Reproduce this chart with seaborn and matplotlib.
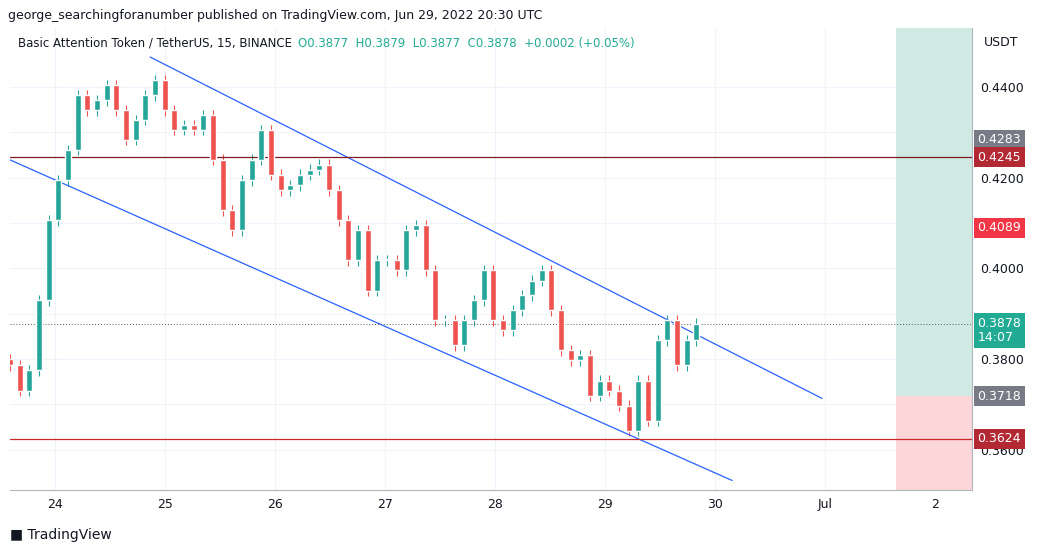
import numpy as np
import pandas as pd
import matplotlib
matplotlib.use('Agg')
import matplotlib.pyplot as plt
import seaborn as sns

# ─── Data (BAT/USDT, ~2h candles) ─────────────────────────────────────────
first_open = 0.3800
closes = [0.3786, 0.3730, 0.3775, 0.3929, 0.4106, 0.4194, 0.4261, 0.4382, 0.4349,
          0.4371, 0.4404, 0.4349, 0.4283, 0.4327, 0.4382, 0.4415, 0.4349, 0.4305,
          0.4316, 0.4305, 0.4338, 0.4239, 0.4128, 0.4084, 0.4194, 0.4239, 0.4305,
          0.4206, 0.4172, 0.4183, 0.4206, 0.4217, 0.4228, 0.4172, 0.4106, 0.4018,
          0.4084, 0.3951, 0.4018, 0.4018, 0.3996, 0.4084, 0.4095, 0.3996, 0.3885,
          0.3885, 0.3830, 0.3885, 0.3929, 0.3996, 0.3885, 0.3863, 0.3907, 0.3940,
          0.3973, 0.3996, 0.3907, 0.3819, 0.3797, 0.3808, 0.3719, 0.3752, 0.3730,
          0.3697, 0.3642, 0.3752, 0.3664, 0.3841, 0.3885, 0.3786, 0.3841, 0.3878]
start_day, end_day = 23.59, 29.83          # 24 == Jun 24 00:00
upper_channel = ([24.864, 30.973], [0.4466, 0.3713])
lower_channel = ([23.591, 30.155], [0.4239, 0.3532])
resistance, support, last_price = 0.4245, 0.3624, 0.3878
target_split = 0.3718
box_days = (31.645, 32.336)
tick_days = [24, 25, 26, 27, 28, 29, 30, 31, 32]
tick_labels = ['24', '25', '26', '27', '28', '29', '30', 'Jul', '2']
price_ticks = [0.36, 0.37, 0.38, 0.39, 0.40, 0.41, 0.42, 0.43, 0.44]

UP, DOWN = '#26a69a', '#ef5350'

sns.set_style('white')
plt.rcParams['font.family'] = 'DejaVu Sans'

df = pd.DataFrame({'close': closes})
df['open'] = [first_open] + closes[:-1]
df['day'] = np.linspace(start_day, end_day, len(closes))
df['high'] = df[['open', 'close']].max(axis=1) + 0.0012
df['low'] = df[['open', 'close']].min(axis=1) - 0.0012
df['color'] = np.where(df['close'] >= df['open'], UP, DOWN)

fig = plt.figure(figsize=(10.45, 5.52), dpi=100)
ax = fig.add_axes([10 / 1045, 1 - 490 / 552, 962 / 1045, 462 / 552])
ax.set_xlim(start_day, box_days[1])
ax.set_ylim(0.3511, 0.4530)

for p in price_ticks:
    ax.axhline(p, color='#f0f3fa', lw=0.8, zorder=0)
for d in tick_days:
    ax.axvline(d, color='#f0f3fa', lw=0.8, zorder=0)

width = (end_day - start_day) / (len(closes) - 1) * 0.6
ax.vlines(df['day'], df['low'], df['high'], colors=df['color'], lw=0.8, zorder=2)
ax.bar(df['day'], (df['close'] - df['open']).abs().clip(lower=0.0003),
       bottom=df[['open', 'close']].min(axis=1), width=width,
       color=df['color'], zorder=3)

sns.lineplot(x=upper_channel[0], y=upper_channel[1], ax=ax, color='#2962ff', lw=0.9)
sns.lineplot(x=lower_channel[0], y=lower_channel[1], ax=ax, color='#2962ff', lw=0.9)
ax.axhline(resistance, color='#801922', lw=0.9)
ax.axhline(support, color='#c62828', lw=0.9)
ax.axhline(last_price, color='#555555', lw=0.7, ls=(0, (1, 2)))
frac = (target_split - 0.3511) / 0.1019
ax.axvspan(box_days[0], box_days[1], ymin=frac, ymax=1, color='#cfe9e3', lw=0)
ax.axvspan(box_days[0], box_days[1], ymin=0, ymax=frac, color='#fcd6d8', lw=0)

# price ticks; the ones hidden behind price boxes are left unlabelled
hidden = {0.43, 0.41, 0.39, 0.37}
ax.set_xticks(tick_days, tick_labels)
ax.yaxis.tick_right()
ax.set_yticks(price_ticks, ['' if p in hidden else f'{p:.4f}' for p in price_ticks])
ax.tick_params(length=0, labelsize=9, colors='#131722', pad=6)
for s in ['top', 'left']:
    ax.spines[s].set_visible(False)
for s in ['right', 'bottom']:
    ax.spines[s].set_color('#b2b5be')

# price labels on the right axis
for val, col in [(0.4283, '#787b86'), (0.4245, '#b22833'), (0.4089, '#f23645'),
                 (0.3718, '#787b86'), (0.3624, '#b22833')]:
    ax.annotate(f'{val:.4f}', xy=(1, val), xycoords=('axes fraction', 'data'),
                xytext=(4, 0), textcoords='offset points', va='center', ha='left',
                fontsize=9, color='white',
                bbox=dict(boxstyle='square,pad=0.3', fc=col, ec='none'))
ax.annotate(f'{last_price:.4f}\n14:07', xy=(1, last_price), xycoords=('axes fraction', 'data'),
            xytext=(4, -5), textcoords='offset points', va='center', ha='left',
            fontsize=9, color='white', linespacing=1.1,
            bbox=dict(boxstyle='square,pad=0.3', fc='#22ab94', ec='none'))
fig.text(984 / 1045, 1 - 42 / 552, 'USDT', fontsize=9, color='#131722', va='center')

fig.text(8 / 1045, 1 - 15 / 552,
         'george_searchingforanumber published on TradingView.com, Jun 29, 2022 20:30 UTC',
         fontsize=9, color='#131722', va='center')
fig.text(18 / 1045, 1 - 43 / 552, 'Basic Attention Token / TetherUS, 15, BINANCE',
         fontsize=8.5, color='#131722', va='center')
fig.text(298 / 1045, 1 - 43 / 552,
         'O0.3877  H0.3879  L0.3877  C0.3878  +0.0002 (+0.05%)',
         fontsize=8.5, color='#22ab94', va='center')
fig.text(10 / 1045, 1 - 535 / 552, '\u25a0 TradingView', fontsize=10,
         color='#131722', va='center')

plt.savefig('out.png', dpi=100)
plt.close()
